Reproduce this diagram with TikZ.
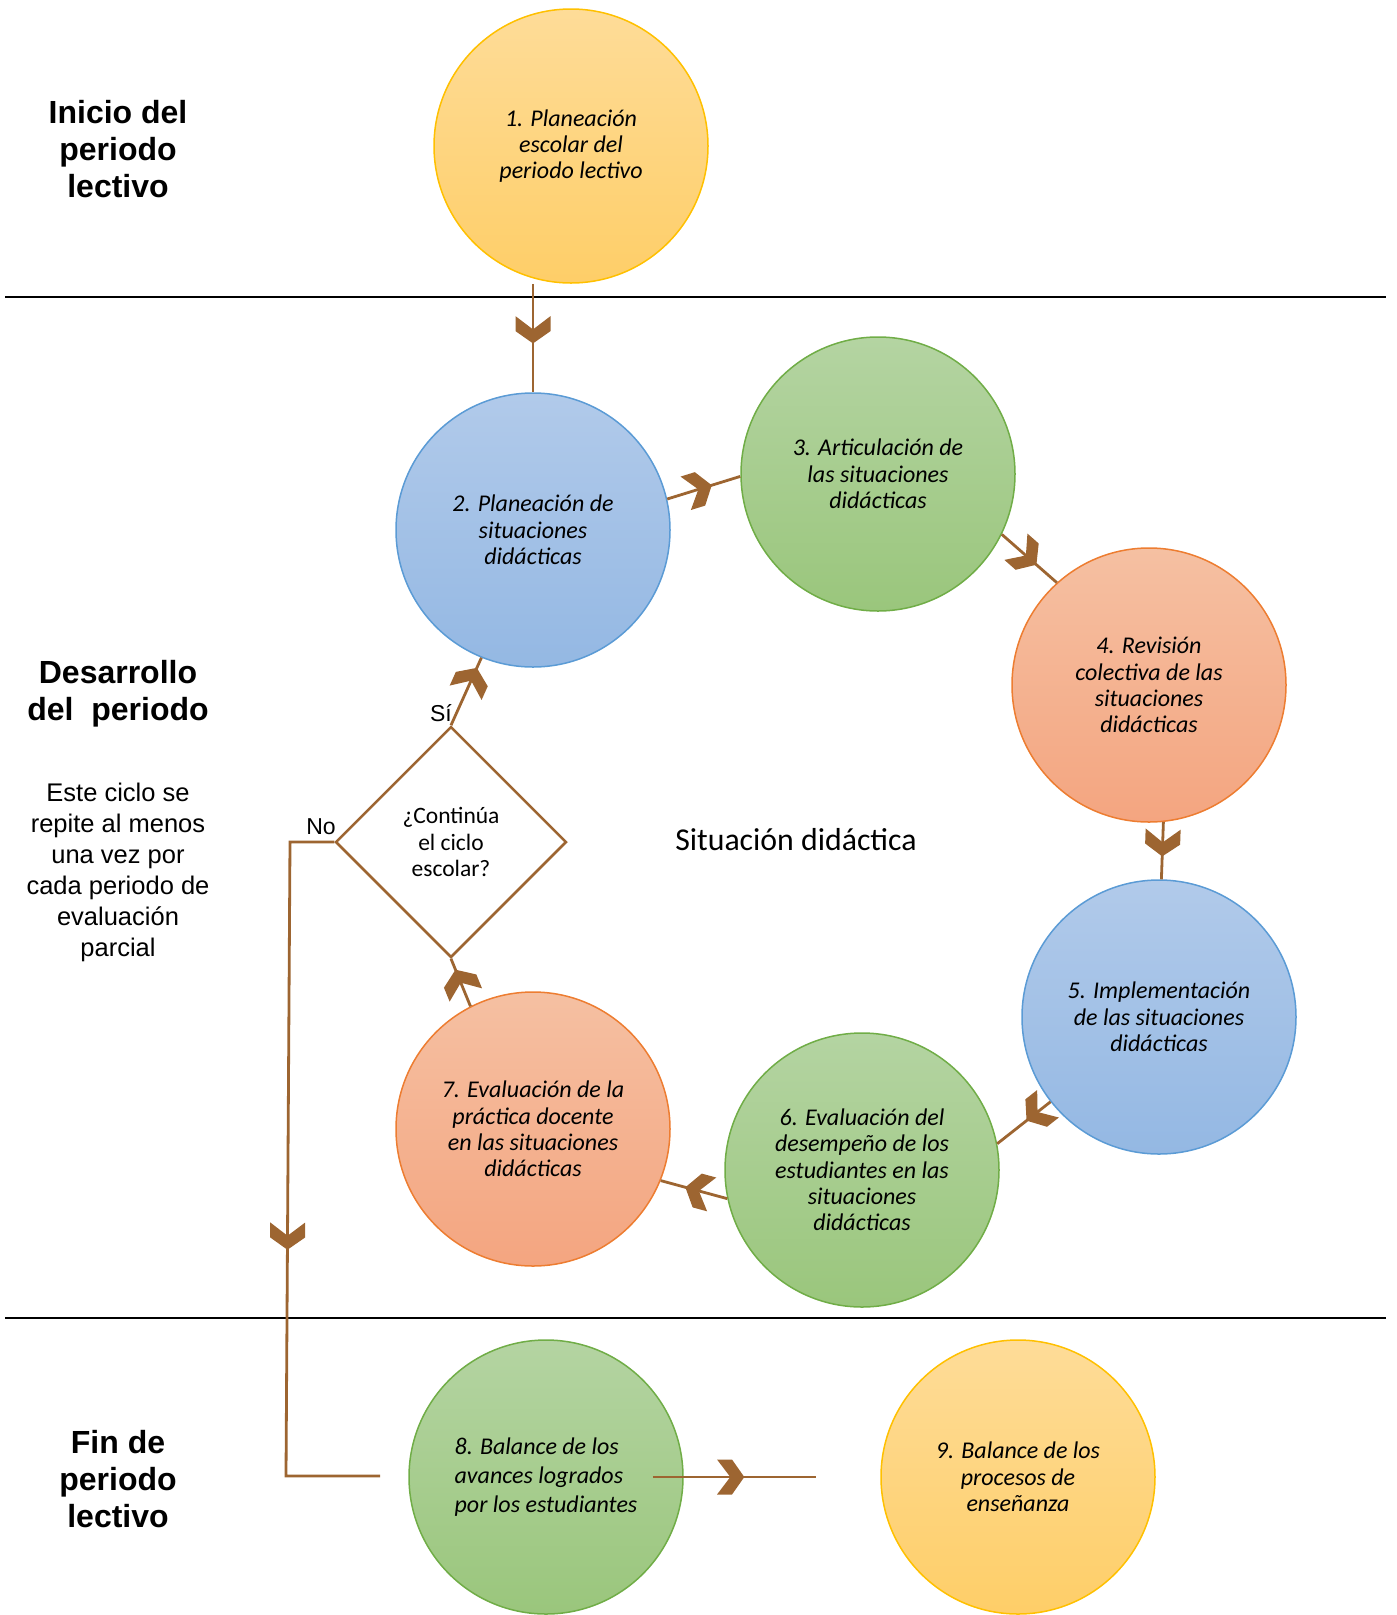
\documentclass[tikz,border=0pt]{standalone}
\usepackage{fontspec}
\setmainfont{Carlito}
\newfontfamily\arialf{Liberation Sans}
\usetikzlibrary{shapes.geometric,decorations.markings}
\definecolor{brn}{RGB}{157,101,49}
\definecolor{ylwB}{RGB}{255,192,0}
\definecolor{ylwT}{RGB}{254,220,152}
\definecolor{ylwD}{RGB}{254,206,104}
\definecolor{grnB}{RGB}{112,173,71}
\definecolor{grnT}{RGB}{180,212,162}
\definecolor{grnD}{RGB}{154,198,124}
\definecolor{bluB}{RGB}{91,155,213}
\definecolor{bluT}{RGB}{177,202,234}
\definecolor{bluD}{RGB}{148,184,227}
\definecolor{orgB}{RGB}{237,125,49}
\definecolor{orgT}{RGB}{245,192,162}
\definecolor{orgD}{RGB}{244,165,128}
\tikzset{
  circ/.style={circle, minimum size=274pt, inner sep=0pt, line width=1.5pt, align=center,
    font=\fontsize{24}{26.3}\selectfont\itshape},
  ylw/.style={circ, draw=ylwB, top color=ylwT, bottom color=ylwD},
  grn/.style={circ, draw=grnB, top color=grnT, bottom color=grnD},
  blu/.style={circ, draw=bluB, top color=bluT, bottom color=bluD},
  org/.style={circ, draw=orgB, top color=orgT, bottom color=orgD},
  conn/.style={draw=brn, line width=2.8pt},
  chev/.style={postaction={decorate, decoration={markings, mark=at position #1 with
    {\fill[brn] (0,0) -- (-12.3,17.5) -- (-27.3,17.5) -- (-14,0) -- (-27.3,-17.5) -- (-12.3,-17.5) -- cycle;}}}},
  head/.style={align=center, font=\arialf\bfseries\fontsize{32}{36.6}\selectfont},
  note/.style={align=center, font=\arialf\fontsize{25.5}{31}\selectfont},
  sep/.style={draw=black, line width=2pt},
}
\begin{document}
\begin{tikzpicture}[x=1pt, y=-1pt]
\useasboundingbox (0,0) rectangle (1397,1615);
% separators
\draw[sep] (5,297) -- (1386,297);
\draw[sep] (5,1318) -- (1386,1318);
% headings
\node[head] (h1) at (118,149) {Inicio del\\periodo\\lectivo};
\node[head] (h2) at (118,694) {Desarrollo\\del\ \ periodo};
\node[note] (h3) at (118,872) {Este ciclo se\\repite al menos\\una vez por\\cada periodo de\\evaluación\\parcial};
\node[head] (h4) at (118,1479) {Fin de\\periodo\\lectivo};
% circles
\node[ylw] (c1) at (571,146) {1. Planeación\\escolar del\\periodo lectivo};
\node[blu] (c2) at (533,530) {2. Planeación de\\situaciones\\didácticas};
\node[grn] (c3) at (878,474) {3. Articulación de\\las situaciones\\didácticas};
\node[org] (c4) at (1149,685) {4. Revisión\\colectiva de las\\situaciones\\didácticas};
\node[blu] (c5) at (1159,1017) {5. Implementación\\de las situaciones\\didácticas};
\node[grn] (c6) at (862,1170) {6. Evaluación del\\desempeño de los\\estudiantes en las\\situaciones\\didácticas};
\node[org] (c7) at (533,1129) {7. Evaluación de la\\práctica docente\\en las situaciones\\didácticas};
\node[grn, align=left, font=\fontsize{24}{29.4}\selectfont\itshape] (c8) at (546,1477) {8. Balance de los\\avances logrados\\por los estudiantes};
\node[ylw] (c9) at (1018,1477) {9. Balance de los\\procesos de\\enseñanza};
% decision
\node[diamond, draw=brn, line width=2.5pt, minimum width=231pt, minimum height=231pt, aspect=1, inner sep=0pt, align=center,
  font=\fontsize{23.5}{26.8}\selectfont] (d) at (451,842) {¿Continúa\\el ciclo\\escolar?};
\node[font=\fontsize{31.8}{36}\selectfont] (sd) at (796,840) {Situación didáctica};
\node[font=\arialf\fontsize{23}{26}\selectfont] (si) at (441,713) {Sí};
\node[font=\arialf\fontsize{23}{26}\selectfont] (no) at (321,827) {No};
% connectors
\draw[conn, chev=0.55] (c1.south -| c2.north) -- (c2.north);
\draw[conn, chev=0.61] (c2.13) -- (c3.181);
\draw[conn, chev=0.63] (c3.-26) -- (c4.132);
\draw[conn, chev=0.6] (c4.-84) -- (c5.89);
\draw[conn, chev=0.45] (c5.218) -- (c6.11);
\draw[conn, chev=0.63] (c6.192) -- (c7.-22);
\draw[conn, chev=0.77] (c7.117) -- (d.south);
\draw[conn, chev=0.85] (d.north) -- (c2.248);
\coordinate (nocorner) at (290,842);
\coordinate (nobot) at (286,1476);
\coordinate (noend) at (380,1476);
\draw[conn, chev=452pt] (d.west) -- (nocorner) -- (nobot) -- (noend);
\coordinate (bstart) at ([xshift=-31pt]c8.east);
\coordinate (bend) at ([xshift=-64pt]c9.west);
\draw[conn, chev=0.56] (bstart) -- (bend);
\end{tikzpicture}
\end{document}
